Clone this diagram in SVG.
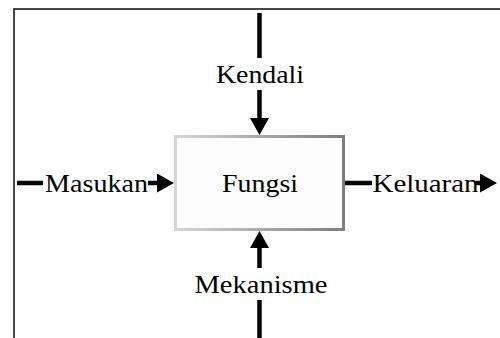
<svg xmlns="http://www.w3.org/2000/svg" width="500" height="338" viewBox="0 0 500 338">
  <defs>
    <linearGradient id="boxStroke" x1="0" y1="0" x2="1" y2="0">
      <stop offset="0" stop-color="#d6d6d6"/>
      <stop offset="1" stop-color="#7e7e7e"/>
    </linearGradient>
    <marker id="arrow" markerUnits="userSpaceOnUse" markerWidth="17" markerHeight="19" refX="0" refY="9.5" orient="auto" viewBox="0 0 17 19">
      <path d="M0,0 L17,9.5 L0,19 Z" fill="#000"/>
    </marker>
  </defs>
  <style>
    .lbl { font-family: "Liberation Serif", "Times New Roman", serif; font-size: 26px; fill: #000; text-anchor: middle; }
    .conn { stroke: #000; stroke-width: 4.5; fill: none; }
  </style>
  <rect width="500" height="338" fill="#fff"/>
  <rect x="14" y="9" width="520" height="400" fill="none" stroke="#1a1a1a" stroke-width="1.6"/>

  <g id="connectors">
    <line class="conn" x1="259.5" y1="13" x2="259.5" y2="58"/>
    <line class="conn" x1="259.5" y1="90" x2="259.5" y2="118" marker-end="url(#arrow)"/>
    <line class="conn" x1="17" y1="183" x2="43" y2="183"/>
    <line class="conn" x1="148" y1="183" x2="157" y2="183" marker-end="url(#arrow)"/>
    <line class="conn" x1="345" y1="183" x2="372" y2="183"/>
    <line class="conn" x1="476" y1="183" x2="480" y2="183" marker-end="url(#arrow)"/>
    <line class="conn" x1="259.5" y1="268" x2="259.5" y2="248" marker-end="url(#arrow)"/>
    <line class="conn" x1="259.5" y1="300" x2="259.5" y2="340"/>
  </g>

  <g id="fungsi">
    <rect x="175.5" y="136.5" width="168" height="93" fill="#fcfcfc" stroke="url(#boxStroke)" stroke-width="3"/>
    <text class="lbl" x="260" y="192" textLength="76" lengthAdjust="spacingAndGlyphs">Fungsi</text>
  </g>
  <g id="kendali">
    <text class="lbl" x="260" y="83" textLength="88" lengthAdjust="spacingAndGlyphs">Kendali</text>
  </g>
  <g id="masukan">
    <text class="lbl" x="96.5" y="192" textLength="103" lengthAdjust="spacingAndGlyphs">Masukan</text>
  </g>
  <g id="keluaran">
    <text class="lbl" x="425.5" y="192" textLength="106" lengthAdjust="spacingAndGlyphs">Keluaran</text>
  </g>
  <g id="mekanisme">
    <text class="lbl" x="261" y="293" textLength="133" lengthAdjust="spacingAndGlyphs">Mekanisme</text>
  </g>
</svg>
